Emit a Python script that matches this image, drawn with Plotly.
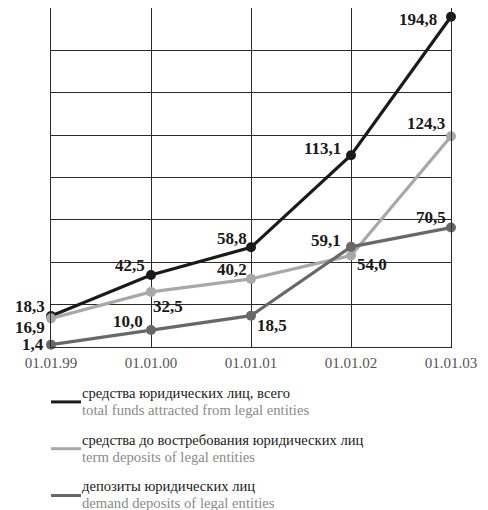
import plotly.graph_objects as go

dates = ["01.01.99", "01.01.00", "01.01.01", "01.01.02", "01.01.03"]
total_funds = [18.3, 42.5, 58.8, 113.1, 194.8]
term_deposits = [16.9, 32.5, 40.2, 54.0, 124.3]
demand_deposits = [1.4, 10.0, 18.5, 59.1, 70.5]

names_ru = ["средства юридических лиц, всего",
            "средства до востребования юридических лиц",
            "депозиты юридических лиц"]
names_en = ["total funds attracted from legal entities",
            "term deposits of legal entities",
            "demand deposits of legal entities"]

colors = ["#1a1a1a", "#a8a8a8", "#686868"]
series = [total_funds, term_deposits, demand_deposits]

# label placement per point: (xanchor, xshift, yshift)
placements = [
    [("right", -5, 9), ("right", -5, 9), ("right", -3, 9), ("right", -9, 7), ("right", -13, -3)],
    [("right", -5, -9), ("left", 1, -15), ("right", -3, 9), ("left", 5, -9), ("right", -5, 13)],
    [("right", -6, 0), ("right", -7, 9), ("left", 5, -10), ("right", -9, 6), ("right", -4, 10)],
]

FONT = "Liberation Serif"

fig = go.Figure()
for vals, col, nm in zip(series, colors, names_ru):
    fig.add_trace(go.Scatter(
        x=dates, y=vals, mode="lines+markers", name=nm,
        line=dict(color=col, width=3.2),
        marker=dict(color=col, size=10),
        showlegend=False, cliponaxis=False,
    ))

annotations = []
for vals, plc in zip(series, placements):
    for d, v, (xa, xs, ys) in zip(dates, vals, plc):
        annotations.append(dict(
            x=d, y=v, xref="x", yref="y",
            text=f"<b>{v:.1f}</b>".replace(".", ","),
            showarrow=False, xanchor=xa, yanchor="middle",
            xshift=xs, yshift=ys, borderpad=0,
            font=dict(family=FONT, size=17, color="#1a1a1a"),
        ))

# custom legend below the chart
legend_y = [-0.162, -0.300, -0.438]
shapes = []
for ly, col, ru, en in zip(legend_y, colors, names_ru, names_en):
    shapes.append(dict(type="line", xref="paper", yref="paper",
                       x0=0.0, x1=0.075, y0=ly, y1=ly,
                       line=dict(color=col, width=3)))
    annotations.append(dict(
        x=0.08, y=ly, xref="paper", yref="paper", text=ru,
        showarrow=False, xanchor="left", yanchor="middle", align="left",
        xshift=-2, yshift=9, borderpad=0,
        font=dict(family=FONT, size=14.6, color="#1a1a1a"),
    ))
    annotations.append(dict(
        x=0.08, y=ly, xref="paper", yref="paper", text=en,
        showarrow=False, xanchor="left", yanchor="middle", align="left",
        xshift=-2, yshift=-8, borderpad=0,
        font=dict(family=FONT, size=14.7, color="#8a8a8a"),
    ))

fig.update_layout(
    width=480, height=502,
    margin=dict(l=43, r=37, t=0, b=163, pad=0),
    paper_bgcolor="white", plot_bgcolor="white",
    annotations=annotations, shapes=shapes,
    xaxis=dict(
        type="category", range=[0, 4],
        showgrid=True, gridcolor="#2a2a2a", gridwidth=1,
        showline=True, linecolor="#2a2a2a", linewidth=1, mirror=True,
        ticks="", tickfont=dict(family=FONT, size=15, color="#555"),
        ticklabelstandoff=2,
        zeroline=False,
    ),
    yaxis=dict(
        range=[0, 200], dtick=25, showticklabels=False,
        showgrid=True, gridcolor="#2a2a2a", gridwidth=1,
        showline=True, linecolor="#2a2a2a", linewidth=1, mirror=True,
        zeroline=False, ticks="",
    ),
)

fig.write_html("out.html")
